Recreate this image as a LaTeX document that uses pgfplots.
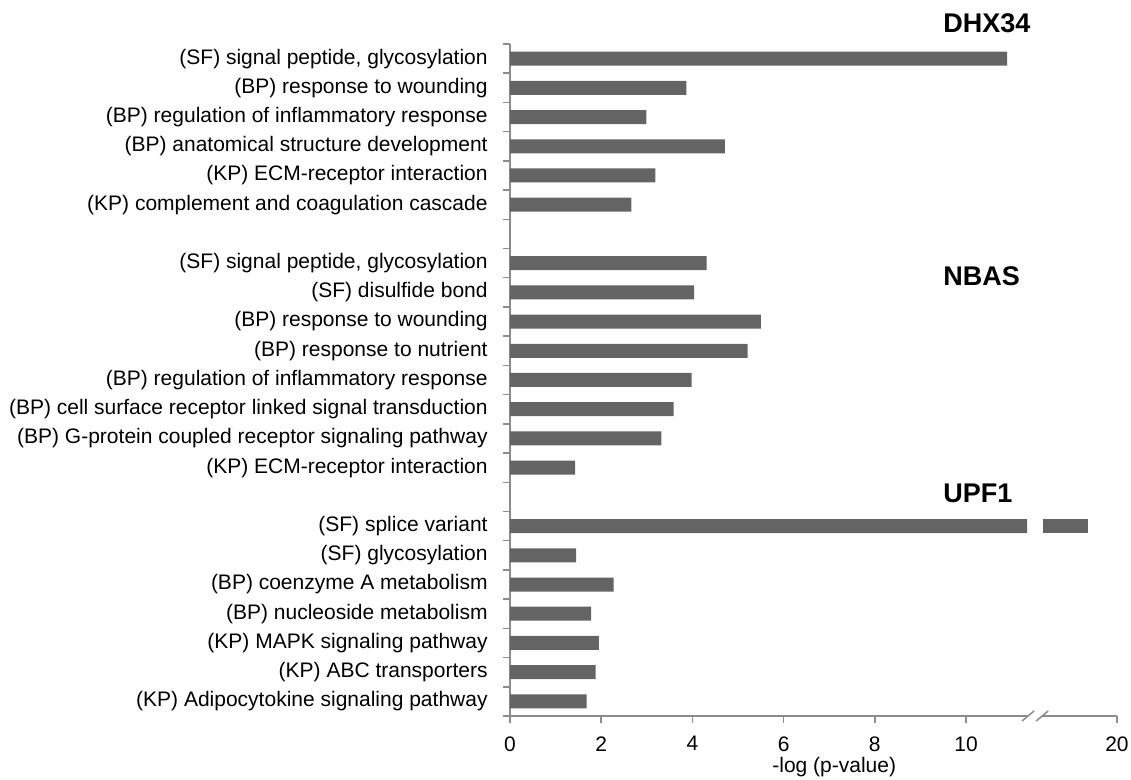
\documentclass[border=0pt]{standalone}
\usepackage{pgfplots}
\usepackage{pgfplotstable}
\pgfplotsset{compat=1.18}
\usepackage{fontspec}
\setmainfont{Liberation Sans}
\definecolor{barc}{HTML}{646464}
\definecolor{axc}{HTML}{8C8C8C}
% x in plotted units: below the break value = -log(p); after the break 6.69 is subtracted
% (splice variant, real value about 19.4, drawn as 11.34 + gap 0.35 + 0.99)
\pgfplotstableread{
y  a     gap   b
0  1.68  0     0
1  1.88  0     0
2  1.95  0     0
3  1.78  0     0
4  2.27  0     0
5  1.45  0     0
6  11.34 0.35  0.99
8  1.43  0     0
9  3.32  0     0
10 3.59  0     0
11 3.98  0     0
12 5.21  0     0
13 5.50  0     0
14 4.04  0     0
15 4.31  0     0
17 2.66  0     0
18 3.19  0     0
19 4.71  0     0
20 2.99  0     0
21 3.87  0     0
22 10.90 0     0
}\datatab
\begin{document}
\begin{tikzpicture}[font=\fontsize{10.5}{12.6}\selectfont]
\useasboundingbox (0,0) rectangle (565.5pt,390pt);
\begin{axis}[
  at={(255pt,32pt)}, anchor=south west,
  scale only axis, width=303.5pt, height=336pt,
  xmin=0, xmax=13.31, ymin=-0.5, ymax=22.5,
  axis x line*=bottom, axis y line*=left,
  axis line style={axc, line width=0.75pt, -},
  xbar stacked, bar width=7pt,
  xtick={0,2,4,6,8,10,13.31}, xticklabels={0,2,4,6,8,10,20},
  minor xtick={0,2,4,6,8,10,13.31},
  ytick={0,...,22},
  yticklabels={
    {(KP) Adipocytokine signaling pathway},
    {(KP) ABC transporters},
    {(KP) MAPK signaling pathway},
    {(BP) nucleoside metabolism},
    {(BP) coenzyme A metabolism},
    {(SF) glycosylation},
    {(SF) splice variant},
    {},
    {(KP) ECM-receptor interaction},
    {(BP) G-protein coupled receptor signaling pathway},
    {(BP) cell surface receptor linked signal transduction},
    {(BP) regulation of inflammatory response},
    {(BP) response to nutrient},
    {(BP) response to wounding},
    {(SF) disulfide bond},
    {(SF) signal peptide, glycosylation},
    {},
    {(KP) complement and coagulation cascade},
    {(KP) ECM-receptor interaction},
    {(BP) anatomical structure development},
    {(BP) regulation of inflammatory response},
    {(BP) response to wounding},
    {(SF) signal peptide, glycosylation}},
  minor ytick={-0.5,0.5,...,22.5},
  tick align=outside,
  major tick length=0pt, minor tick length=3.3pt,
  major tick style={draw=none},
  minor tick style={axc, line width=0.75pt},
  xticklabel style={anchor=north, inner sep=0pt, yshift=-10pt},
  yticklabel style={anchor=east, inner sep=0pt, xshift=-11pt},
  /pgf/number format/assume math mode=true,
  clip=false,
]
\addplot[fill=barc, draw=none] table[x=a, y=y] {\datatab};
\addplot[fill=none, draw=none] table[x=gap, y=y] {\datatab};
\addplot[fill=barc, draw=none] table[x=b, y=y] {\datatab};
\coordinate (bL) at (axis cs:11.36,-0.5);
\coordinate (bR) at (axis cs:11.67,-0.5);
\end{axis}
\fill[white] ([yshift=-1.5pt]bL) rectangle ([yshift=1.5pt]bR);
\draw[axc, line width=0.75pt] ([xshift=-3pt,yshift=-2.5pt]bL) -- ([xshift=3pt,yshift=2.5pt]bL);
\draw[axc, line width=0.75pt] ([xshift=-3pt,yshift=-2.5pt]bR) -- ([xshift=3pt,yshift=2.5pt]bR);
\node[anchor=base west, inner sep=0pt, font=\fontsize{13.5}{16}\selectfont\bfseries] at (471.5pt,373.5pt) {DHX34};
\node[anchor=base west, inner sep=0pt, font=\fontsize{13.5}{16}\selectfont\bfseries] at (471.5pt,247pt) {NBAS};
\node[anchor=base west, inner sep=0pt, font=\fontsize{13.5}{16}\selectfont\bfseries] at (471.5pt,138.5pt) {UPF1};
\node[anchor=base west, inner sep=0pt] at (386pt,3.5pt) {-log (p-value)};
\end{tikzpicture}
\end{document}
